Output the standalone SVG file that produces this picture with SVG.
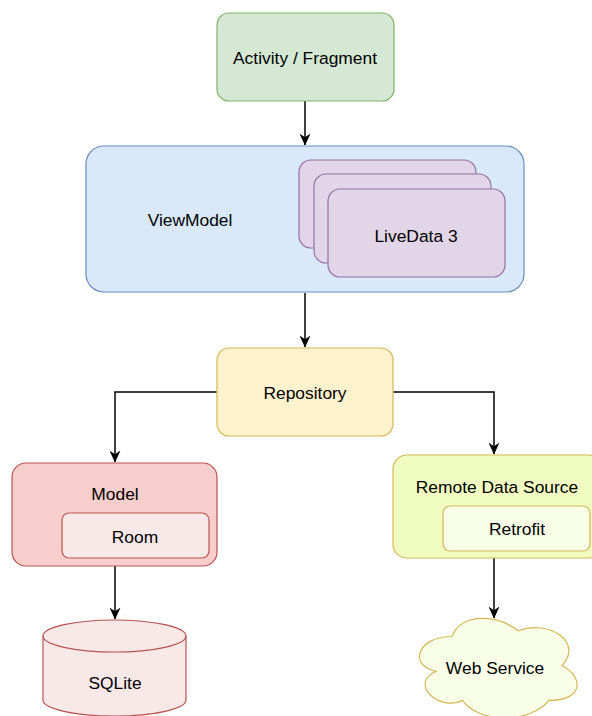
<svg xmlns="http://www.w3.org/2000/svg" width="592" height="716" viewBox="0 0 592 716">
  <defs>
    <marker id="arrow" viewBox="0 0 10 10" refX="9.5" refY="5" markerWidth="12" markerHeight="11" markerUnits="userSpaceOnUse" orient="auto" preserveAspectRatio="none">
      <path d="M0,0 L10,5 L0,10 L3,5 Z" fill="#000"/>
    </marker>
    <style>
      text { font-family: "Liberation Sans", Arial, Helvetica, sans-serif; font-size: 17.4px; fill: #000; text-anchor: middle; dominant-baseline: central; }
      .edge { fill: none; stroke: #000; stroke-width: 1.5; marker-end: url(#arrow); }
      .green { fill: #d5e8d4; stroke: #82b366; stroke-width: 1.2; }
      .blue { fill: #dae8fc; stroke: #6c8ebf; stroke-width: 1.2; }
      .purple { fill: #e1d5e7; stroke: #9673a6; stroke-width: 1.2; }
      .yellow { fill: #fff2cc; stroke: #d6b656; stroke-width: 1.2; }
      .red { fill: #f8cecc; stroke: #b85450; stroke-width: 1.2; }
      .redlight { fill: #f8e8e8; stroke: #b85450; stroke-width: 1.2; }
      .lime { fill: #f0fcc0; stroke: #d6b656; stroke-width: 1.2; }
      .limelight { fill: #f9fee6; stroke: #d6b656; stroke-width: 1.2; }
    </style>
  </defs>

  <g id="connectors">
    <path class="edge" d="M305,101 L305,145"/>
    <path class="edge" d="M305,293 L305,347"/>
    <path class="edge" d="M217,392 L115,392 L115,462"/>
    <path class="edge" d="M393,392 L494,392 L494,454"/>
    <path class="edge" d="M115,566 L115,619"/>
    <path class="edge" d="M494,558 L494,618"/>
  </g>

  <g id="activity-fragment">
    <rect class="green" x="217" y="13" width="177" height="88" rx="12"/>
    <text x="305" y="58">Activity / Fragment</text>
  </g>

  <g id="viewmodel">
    <rect class="blue" x="86" y="146" width="438" height="146" rx="18"/>
    <text x="190" y="220">ViewModel</text>
  </g>

  <g id="livedata">
    <rect class="purple" x="299" y="160" width="177" height="88" rx="12"/>
    <rect class="purple" x="314" y="174" width="177" height="89" rx="12"/>
    <rect class="purple" x="328" y="189" width="177" height="88" rx="12"/>
    <text x="416" y="236">LiveData 3</text>
  </g>

  <g id="repository">
    <rect class="yellow" x="217" y="348" width="176" height="88" rx="12"/>
    <text x="305" y="393">Repository</text>
  </g>

  <g id="model">
    <rect class="red" x="12" y="463" width="205" height="103" rx="14"/>
    <text x="115" y="494">Model</text>
  </g>

  <g id="room">
    <rect class="redlight" x="62" y="513" width="147" height="45" rx="7"/>
    <text x="135" y="537">Room</text>
  </g>

  <g id="remote-data-source">
    <rect class="lime" x="393" y="455" width="210" height="103" rx="14"/>
    <text x="497" y="487">Remote Data Source</text>
  </g>

  <g id="retrofit">
    <rect class="limelight" x="443" y="506" width="147" height="45" rx="7"/>
    <text x="517" y="529">Retrofit</text>
  </g>

  <g id="sqlite">
    <path class="redlight" d="M43,636 A71.5,16 0 0 1 186,636 L186,700 A71.5,16 0 0 1 43,700 Z"/>
    <path class="redlight" style="fill:none" d="M43,636 A71.5,16 0 0 0 186,636"/>
    <text x="115" y="683">SQLite</text>
  </g>

  <g id="web-service">
    <path class="limelight" d="M452,636.5 C417,636.5 408,665.5 436,671.3 C408,684.1 440,712 462.6,700.4 C478,723.6 531,723.6 548.8,700.4 C584,700.4 584,677.2 562,665.5 C584,642.3 548.8,619.1 518,630.7 C496,613.3 460.8,613.3 452,636.5 Z"/>
    <text x="495" y="668">Web Service</text>
  </g>
</svg>
